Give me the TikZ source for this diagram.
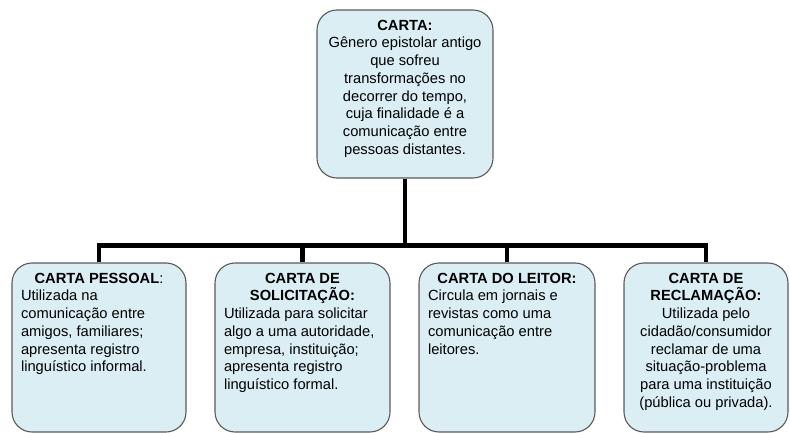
\documentclass[tikz,border=0pt]{standalone}
\usepackage{fontspec}
\setmainfont{Liberation Sans}
\definecolor{cartafundo}{HTML}{DBEEF4}
\definecolor{cartaborda}{HTML}{5A5A5A}
\begin{document}
\begin{tikzpicture}[x=1pt,y=-1pt,
        carta/.style={draw=cartaborda, fill=cartafundo, rounded corners=20pt, line width=1.1pt,
        inner xsep=9pt, inner ysep=10pt, font=\fontsize{14.7}{17.7}\selectfont},
        ligacao/.style={line width=4.5pt}]
    \useasboundingbox (0,0) rectangle (790,433);
    % tipos de carta
    \node[carta] (carta) at (405,94) {\parbox[c][148pt][t]{158pt}{\centering
        \textbf{CARTA:}\\ Gênero epistolar antigo\\ que sofreu\\ transformações no\\
        decorrer do tempo,\\ cuja finalidade é a\\ comunicação entre\\ pessoas distantes.}};
    \node[carta] (pessoal) at (99,347.5) {\parbox[c][149pt][t]{156pt}{%
        {\centering\textbf{CARTA PESSOAL}:\par}\raggedright
        Utilizada na\\ comunicação entre\\ amigos, familiares;\\ apresenta registro\\
        linguístico informal.}};
    \node[carta] (solicitacao) at (302.5,347.5) {\parbox[c][149pt][t]{157pt}{%
        {\centering\textbf{CARTA DE\\ SOLICITAÇÃO:}\par}\raggedright
        Utilizada para solicitar\\ algo a uma autoridade,\\ empresa, instituição;\\
        apresenta registro\\ linguístico formal.}};
    \node[carta] (leitor) at (507,347.5) {\parbox[c][149pt][t]{158pt}{%
        {\centering\textbf{CARTA DO LEITOR:}\par}\raggedright
        Circula em jornais e\\ revistas como uma\\ comunicação entre\\ leitores.}};
    \node[carta] (reclamacao) at (706,347.5) {\parbox[c][149pt][t]{146pt}{\centering
        \textbf{CARTA DE\\ RECLAMAÇÃO:}\\ Utilizada pelo\\ cidadão/consumidor\\
        reclamar de uma\\ situação-problema\\ para uma instituição\\ (pública ou privada).}};
    % ligacoes
    \draw[ligacao] (carta.south) -- ++(0,67) coordinate (barra);
    \draw[ligacao] (pessoal.north) |- (barra) -| (reclamacao.north);
    \draw[ligacao] (solicitacao.north) -- (solicitacao.north |- barra);
    \draw[ligacao] (leitor.north) -- (leitor.north |- barra);
\end{tikzpicture}
\end{document}
